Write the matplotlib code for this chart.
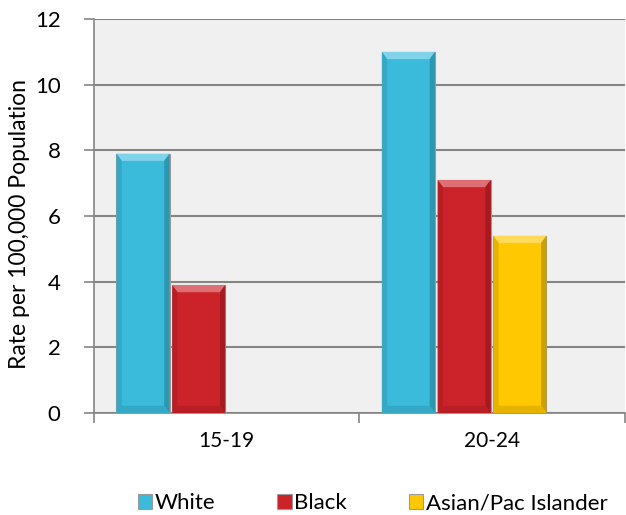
import matplotlib.pyplot as plt
import matplotlib.colors as mcolors
from matplotlib.patches import Polygon, Rectangle
import numpy as np

plt.rcParams['font.family'] = ['Lato', 'DejaVu Sans']

categories = ['15-19', '20-24']
series = ['White', 'Black', 'Asian/Pac Islander']
values = {
    'White': [7.9, 11.0],
    'Black': [3.9, 7.1],
    'Asian/Pac Islander': [np.nan, 5.4],
}
colors = {'White': '#3bbbdb', 'Black': '#cc2229', 'Asian/Pac Islander': '#ffc800'}


def shade(c, f):
    r, g, b = mcolors.to_rgb(c)
    if f > 0:
        return (r + (1 - r) * f, g + (1 - g) * f, b + (1 - b) * f)
    return (r * (1 + f), g * (1 + f), b * (1 + f))


fig = plt.figure(figsize=(6.26, 5.15), dpi=100)
ax = fig.add_axes([0.150, 0.198, 0.848, 0.765])
ax.set_facecolor('#f0f0f0')

x = np.arange(len(categories))
width = 0.2
step = 0.21
offsets = (np.arange(4) - 1.5) * step

for i, s in enumerate(series):
    bars = ax.bar(x + offsets[i], values[s], width, color=colors[s],
                  edgecolor='#9a9a9a', linewidth=0.8, zorder=3)
    for b in bars:
        h = b.get_height()
        if not np.isfinite(h) or h <= 0:
            continue
        x0, y0 = b.get_x(), b.get_y()
        x1, y1 = x0 + b.get_width(), y0 + h
        dx, dy = 0.02, 0.22
        c = colors[s]
        ax.add_patch(Polygon([(x0, y1), (x1, y1), (x1 - dx, y1 - dy), (x0 + dx, y1 - dy)],
                             closed=True, color=shade(c, 0.35), lw=0, zorder=4))
        ax.add_patch(Polygon([(x1, y1), (x1, y0), (x1 - dx, y0 + dy), (x1 - dx, y1 - dy)],
                             closed=True, color=shade(c, -0.2), lw=0, zorder=4))
        ax.add_patch(Polygon([(x0, y1), (x0, y0), (x0 + dx, y0 + dy), (x0 + dx, y1 - dy)],
                             closed=True, color=shade(c, -0.1), lw=0, zorder=4))
        ax.add_patch(Polygon([(x0, y0), (x1, y0), (x1 - dx, y0 + dy), (x0 + dx, y0 + dy)],
                             closed=True, color=shade(c, -0.1), lw=0, zorder=4))

ax.set_xlim(-0.5, 1.5)
ax.set_ylim(0, 12)
ax.set_yticks(np.arange(0, 13, 2))
ax.yaxis.grid(True, color='#858585', linewidth=1.5, zorder=0)
ax.set_axisbelow(True)
for sp in ['top', 'right']:
    ax.spines[sp].set_visible(False)
ax.spines['left'].set_color('#858585')
ax.spines['bottom'].set_color('#858585')
ax.spines['left'].set_linewidth(1.2)
ax.spines['bottom'].set_linewidth(1.2)

ax.set_xticks(x)
ax.set_xticklabels(categories)
ax.set_xticks([-0.5, 0.5, 1.5], minor=True)
ax.tick_params(axis='x', which='major', length=0, pad=13, labelsize=15)
ax.tick_params(axis='x', which='minor', length=7, color='#858585', width=1.2)
ax.tick_params(axis='y', length=7, color='#858585', width=1.2, labelsize=16, pad=17)
ax.set_ylabel('Rate per 100,000 Population', fontsize=16.5, labelpad=6)
ax.yaxis.set_label_coords(-0.12, 0.48)

handles = [Rectangle((0, 0), 1, 1, facecolor=colors[s], edgecolor='#9a9a9a', lw=0.8) for s in series]
fig.legend(handles, series, loc='lower center', bbox_to_anchor=(0.595, -0.035), ncol=3,
           frameon=False, fontsize=16, handlelength=0.65, handleheight=0.65,
           handletextpad=0.1, columnspacing=2.8)

fig.savefig('out.png', dpi=100)
